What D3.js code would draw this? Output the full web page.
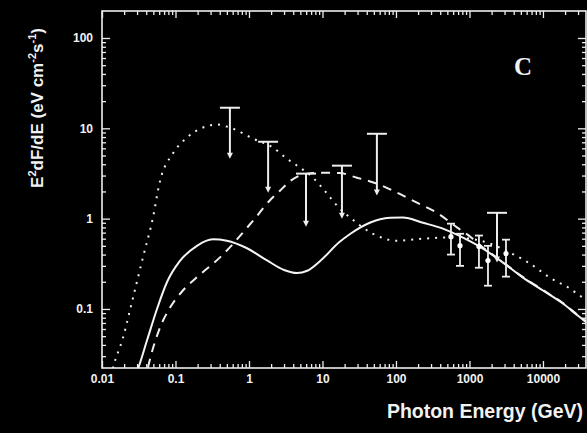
<!DOCTYPE html>
<html>
<head>
<meta charset="utf-8">
<script src="https://cdn.jsdelivr.net/npm/d3@7"></script>
<style>
  html, body { margin: 0; padding: 0; background: #000; }
  svg { display: block; }
</style>
</head>
<body>
<svg id="mainsvg" width="587" height="433"></svg>
<script>
// ---- data ----
let xTickValues = [0.01, 0.1, 1, 10, 100, 1000, 10000];
let xTickLabels = ["0.01", "0.1", "1", "10", "100", "1000", "10000"];
let yTickValues = [0.1, 1, 10, 100];
let yTickLabels = ["0.1", "1", "10", "100"];

// solid model curve [E (GeV), E2dF/dE]
let solidCurve = [
    [0.028, 0.018], [0.031, 0.022], [0.041, 0.045], [0.056, 0.10], [0.077, 0.20],
    [0.115, 0.34], [0.196, 0.50], [0.32, 0.59], [0.50, 0.57], [0.94, 0.47],
    [1.76, 0.345], [3.0, 0.27], [4.5, 0.25], [6.2, 0.265], [9.3, 0.34],
    [17, 0.55], [24, 0.68], [44, 0.90], [83, 1.02], [124, 1.03], [233, 0.90],
    [435, 0.775], [816, 0.616], [1527, 0.466], [2860, 0.326], [5350, 0.222],
    [10000, 0.16], [18700, 0.115], [30000, 0.084], [40000, 0.07]
];
// dotted model curve
let dottedCurve = [
    [0.012, 0.012], [0.0141, 0.022], [0.0193, 0.048], [0.0264, 0.133], [0.036, 0.37],
    [0.049, 1.0], [0.0615, 2.6], [0.092, 5.25], [0.143, 7.9], [0.237, 10.2],
    [0.367, 11], [0.55, 10.2], [1.13, 7.7], [2.12, 6.1], [3.29, 4.6], [4.94, 3.67],
    [7.43, 2.84], [11.5, 1.9], [16.3, 1.35], [23.7, 1.03], [48.6, 0.68], [103, 0.57],
    [233, 0.60], [543, 0.62], [1016, 0.60], [1900, 0.53], [3560, 0.42], [6650, 0.318],
    [12400, 0.222], [23300, 0.168], [31800, 0.14], [40000, 0.125]
];
// dashed model curve
let dashedCurve = [
    [0.038, 0.015], [0.042, 0.022], [0.0615, 0.062], [0.084, 0.103], [0.126, 0.16],
    [0.215, 0.24], [0.40, 0.37], [0.60, 0.52], [0.85, 0.72], [1.2, 1.0], [1.93, 1.6],
    [2.64, 2.04], [3.61, 2.6], [6.15, 3.15], [10.2, 3.23], [17, 3.2], [29.4, 2.84],
    [55, 2.44], [103, 1.94], [193, 1.50], [361, 1.16], [676, 0.80], [1000, 0.64],
    [1527, 0.48], [2860, 0.33], [5350, 0.225], [10000, 0.162], [18700, 0.116],
    [30000, 0.085], [40000, 0.071]
];
// upper limits [E, limit, arrow tip]
let upperLimits = [
    [0.55, 16.9, 4.6], [1.82, 7.1, 1.94], [5.97, 3.15, 0.815],
    [18.4, 3.86, 1.0], [55, 8.7, 1.8], [2370, 1.16, 0.326]
];
// measured points [E, value, high, low]
let points = [
    [560, 0.632, 0.88, 0.40], [743, 0.502, 0.68, 0.30], [1346, 0.49, 0.65, 0.286],
    [1786, 0.343, 0.50, 0.181], [3140, 0.41, 0.585, 0.228]
];

// ---- layout ----
let plotL = 102, plotR = 586, plotT = 11, plotB = 368;
let ink = "#eee";
let sans = "'Liberation Sans', Arial, sans-serif";
let svg = d3.select("#mainsvg");

let x = d3.scaleLog().domain([0.01, 38500]).range([plotL, plotR]);
let y = d3.scaleLog().domain([0.0222, 199]).range([plotB, plotT]);

function minorTicks(scale) {
    let [a, b] = scale.domain();
    let out = [];
    for (let e = -3; e <= 6; e++) {
        for (let m = 2; m <= 9; m++) {
            let v = m * Math.pow(10, e);
            if (v > a && v < b) out.push(v);
        }
    }
    return out;
}

let axisG = svg.append("g");
// bottom
axisG.append("g").attr("transform", `translate(0,${plotB})`)
    .call(d3.axisBottom(x).tickValues(xTickValues).tickSize(-7).tickPadding(6)
        .tickFormat((d, i) => xTickLabels[i]));
axisG.append("g").attr("transform", `translate(0,${plotB})`)
    .call(d3.axisBottom(x).tickValues(minorTicks(x)).tickSize(-4).tickFormat(""));
// top
axisG.append("g").attr("transform", `translate(0,${plotT})`)
    .call(d3.axisTop(x).tickValues(xTickValues).tickSize(-7).tickFormat(""));
axisG.append("g").attr("transform", `translate(0,${plotT})`)
    .call(d3.axisTop(x).tickValues(minorTicks(x)).tickSize(-4).tickFormat(""));
// left
axisG.append("g").attr("transform", `translate(${plotL},0)`)
    .call(d3.axisLeft(y).tickValues(yTickValues).tickSize(-8).tickPadding(9)
        .tickFormat((d, i) => yTickLabels[i]));
axisG.append("g").attr("transform", `translate(${plotL},0)`)
    .call(d3.axisLeft(y).tickValues(minorTicks(y)).tickSize(-4).tickFormat(""));
// right
axisG.append("g").attr("transform", `translate(${plotR},0)`)
    .call(d3.axisRight(y).tickValues(yTickValues).tickSize(-8).tickFormat(""));
axisG.append("g").attr("transform", `translate(${plotR},0)`)
    .call(d3.axisRight(y).tickValues(minorTicks(y)).tickSize(-4).tickFormat(""));

axisG.selectAll(".domain").remove();
axisG.selectAll(".tick line").attr("stroke", ink).attr("stroke-width", 1.3);
axisG.selectAll(".tick text")
    .style("font-family", sans).style("font-weight", "bold").style("font-size", "12px")
    .attr("fill", "#f2f2f2");

svg.append("rect")
    .attr("x", plotL).attr("y", plotT)
    .attr("width", plotR - plotL).attr("height", plotB - plotT)
    .attr("fill", "none").attr("stroke", ink).attr("stroke-width", 1.6);

// ---- curves ----
svg.append("clipPath").attr("id", "plotclip")
    .append("rect").attr("x", plotL).attr("y", plotT)
    .attr("width", plotR - plotL).attr("height", plotB - plotT);

let line = d3.line()
    .x(d => x(d[0]))
    .y(d => y(d[1]))
    .curve(d3.curveMonotoneX);

let curveG = svg.append("g").attr("clip-path", "url(#plotclip)");
curveG.append("path").datum(dottedCurve)
    .attr("d", line).attr("fill", "none").attr("stroke", ink)
    .attr("stroke-width", 2).attr("stroke-dasharray", "2,6").attr("stroke-linecap", "butt");
curveG.append("path").datum(dashedCurve)
    .attr("d", line).attr("fill", "none").attr("stroke", ink)
    .attr("stroke-width", 2).attr("stroke-dasharray", "9,7");
curveG.append("path").datum(solidCurve)
    .attr("d", line).attr("fill", "none").attr("stroke", "#f4f4f4")
    .attr("stroke-width", 2);

// ---- upper limits ----
let ulG = svg.append("g");
ulG.selectAll(".ul").data(upperLimits).enter()
    .append("g")
    .each(function (d) {
        let g = d3.select(this);
        let cx = x(d[0]), cy = y(d[1]), ty = y(d[2]);
        g.append("line").attr("x1", cx - 10).attr("x2", cx + 10).attr("y1", cy).attr("y2", cy)
            .attr("stroke", ink).attr("stroke-width", 2);
        g.append("line").attr("x1", cx).attr("x2", cx).attr("y1", cy).attr("y2", ty - 4)
            .attr("stroke", ink).attr("stroke-width", 2);
        g.append("path")
            .attr("d", `M${cx - 3},${ty - 6}L${cx + 3},${ty - 6}L${cx},${ty}Z`)
            .attr("fill", ink);
    });

// ---- measured points ----
let ptG = svg.append("g");
ptG.selectAll(".pt").data(points).enter()
    .append("g")
    .each(function (d) {
        let g = d3.select(this);
        let cx = x(d[0]), cy = y(d[1]), hy = y(d[2]), ly = y(d[3]);
        g.append("line").attr("x1", cx).attr("x2", cx).attr("y1", hy).attr("y2", ly)
            .attr("stroke", ink).attr("stroke-width", 1.8);
        for (let yy of [hy, ly]) {
            g.append("line").attr("x1", cx - 4).attr("x2", cx + 4).attr("y1", yy).attr("y2", yy)
                .attr("stroke", ink).attr("stroke-width", 1.8);
        }
        g.append("circle").attr("cx", cx).attr("cy", cy).attr("r", 2.6).attr("fill", "#fff");
    });

// ---- titles ----
let yt = svg.append("text")
    .attr("transform", "translate(43,108) rotate(-90)")
    .attr("text-anchor", "middle")
    .attr("fill", "#f2f2f2")
    .style("font-family", sans).style("font-weight", "bold").style("font-size", "17px");
yt.append("tspan").text("E");
yt.append("tspan").style("font-size", "11px").attr("dy", -7).text("2");
yt.append("tspan").attr("dy", 7).text("dF/dE (eV cm");
yt.append("tspan").style("font-size", "11px").attr("dy", -7).text("-2");
yt.append("tspan").attr("dy", 7).text("s");
yt.append("tspan").style("font-size", "11px").attr("dy", -7).text("-1");
yt.append("tspan").attr("dy", 7).text(")");

svg.append("text")
    .attr("x", 583).attr("y", 418)
    .attr("text-anchor", "end")
    .attr("fill", "#f2f2f2")
    .style("font-family", sans).style("font-weight", "bold").style("font-size", "19.5px")
    .text("Photon Energy (GeV)");

svg.append("text")
    .attr("x", 523).attr("y", 75)
    .attr("text-anchor", "middle")
    .attr("fill", "#f2f2f2")
    .style("font-family", "'Liberation Serif', 'Times New Roman', serif")
    .style("font-weight", "bold").style("font-size", "25px")
    .text("C");
</script>
</body>
</html>
